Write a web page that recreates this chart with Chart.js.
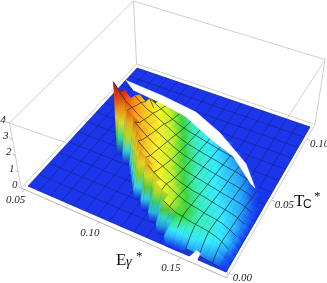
<!DOCTYPE html>
<html>
<head>
<meta charset="utf-8">
<script src="https://cdn.jsdelivr.net/npm/chart.js@4"></script>
<style>
html, body { margin: 0; background: #fff; }
canvas { display: block; filter: blur(0.35px); }
</style>
</head>
<body>
<canvas id="myChart" width="327" height="283"></canvas>
<script>
// axis ranges and tick labels
const energyRange = [0.05, 0.175];
const tempRange = [0, 0.11];
const energyTicks = [0.05, 0.10, 0.15];
const tempTicks = [0.00, 0.05, 0.10];
const heightTicks = [0, 1, 2, 3, 4];

// surface heights, one row per T node, first E node in leafStart
const leafStart = [26, 23, 21, 19, 17, 15, 14, 13, 12, 10, 7, 8, 9, 9, 10, 10, 11, 12];
const leafZ = [
    [.3, .3, .25, .2, .15, .1],
    [.9, .8, .75, .7, .65, .6, .55, .45, .2],
    [1.5, 1.3, 1.1, 1.05, .95, .9, .85, .8, .7, .55, .3],
    [1.9, 1.6, 1.45, 1.3, 1.15, 1.05, .95, .85, .8, .75, .65, .5, .3],
    [2.3, 2, 1.75, 1.6, 1.4, 1.2, 1.05, .95, .9, .8, .75, .7, .6, .45, .25],
    [2.5, 2.25, 2, 1.8, 1.6, 1.4, 1.25, 1.1, 1, .9, .82, .75, .7, .6, .55, .42, .25],
    [2.6, 2.3, 2, 1.85, 1.65, 1.45, 1.25, 1.1, 1, .9, .85, .78, .7, .62, .55, .48, .38, .2],
    [2.7, 2.35, 2.05, 1.9, 1.7, 1.5, 1.3, 1.15, 1, .92, .85, .78, .7, .63, .57, .5, .43, .33, .15],
    [2.8, 2.5, 2.2, 1.95, 1.75, 1.55, 1.35, 1.2, 1.05, .95, .87, .8, .72, .65, .57, .5, .44, .38, .28, .12],
    [2.95, 2.7, 2.45, 2.25, 2.05, 1.85, 1.65, 1.45, 1.25, 1.1, 1, .9, .82, .75, .68, .6, .52, .46, .4, .33, .22, .08],
    [4, 3.5, 3.05, 2.8, 2.5, 2.3, 2.1, 1.9, 1.7, 1.5, 1.3, 1.15, 1.02, .93, .85, .78, .7, .62, .55, .48, .42, .35, .25, .12],
    [3.3, 2.9, 2.6, 2.35, 2.15, 2, 1.8, 1.6, 1.4, 1.2, 1.05, .95, .88, .8, .72, .65, .58, .5, .44, .38, .3, .2, .08],
    [2.75, 2.45, 2.2, 2.05, 1.85, 1.65, 1.45, 1.25, 1.1, .97, .88, .8, .72, .65, .58, .5, .44, .38, .3, .2, .1],
    [2.5, 2.2, 2, 1.85, 1.65, 1.45, 1.28, 1.12, 1, .9, .82, .75, .67, .6, .52, .45, .38, .3, .2, .1],
    [2.1, 1.9, 1.7, 1.5, 1.3, 1.15, 1.02, .92, .84, .76, .68, .6, .52, .45, .37, .3, .22],
    [1.2, 1.75, 1.55, 1.35, 1.18, 1.05, .95, .86, .78, .7, .62, .54, .46, .38, .3, .15],
    [1.5, 1.35, 1.18, 1.05, .95, .86, .78, .7, .62, .54, .46, .38, .12],
    [1.05, .95, .85, .78, .7, .62, .54, .46, .3]
];

// hole in the surface, as (E, T) outlines
const gapE = [.05, .0799, .106, .1279, .1529, .1651, .1619, .1433, .1271, .1026, .0838, .0595];
const gapT = [.0966, .0945, .0911, .082, .067, .0536, .0551, .0691, .0744, .0847, .0883, .0909];
const notchE = [.15375, .15875, .1581, .1556];
const notchT = [-.001, -.001, .0039, .0044];

// colour scale against height
const colorHeights = [0, .15, .35, .62, .85, 1.05, 1.35, 1.8, 2.6, 3.2, 4];
const colorValues = [[20, 45, 235], [25, 90, 240], [40, 170, 250], [55, 235, 255], [60, 240, 190], [60, 215, 60],
    [190, 240, 40], [250, 245, 40], [255, 160, 20], [240, 50, 20], [190, 20, 30]];

const canvas = document.getElementById('myChart');
const ctx = canvas.getContext('2d');

// picture of the floor corners and of the same corners at height 4
function quadMap(q) {
    const dx1 = q[1][0] - q[2][0], dx2 = q[3][0] - q[2][0], sx = q[0][0] - q[1][0] + q[2][0] - q[3][0];
    const dy1 = q[1][1] - q[2][1], dy2 = q[3][1] - q[2][1], sy = q[0][1] - q[1][1] + q[2][1] - q[3][1];
    const den = dx1 * dy2 - dx2 * dy1;
    const g = (sx * dy2 - dx2 * sy) / den, h = (dx1 * sy - sx * dy1) / den;
    const a = q[1][0] - q[0][0] + g * q[1][0], b = q[3][0] - q[0][0] + h * q[3][0];
    const d = q[1][1] - q[0][1] + g * q[1][1], e = q[3][1] - q[0][1] + h * q[3][1];
    return (u, v) => {
        const w = g * u + h * v + 1;
        return [(a * u + b * v + q[0][0]) / w, (d * u + e * v + q[0][1]) / w];
    };
}
const floorMap = quadMap([[28, 186], [226, 272], [310, 127], [137, 68]]);
const topMap = quadMap([[17, 121], [233, 196], [320, 62], [134, 5]]);

function project(energy, temp, z) {
    const u = (energy - energyRange[0]) / (energyRange[1] - energyRange[0]);
    const v = (temp - tempRange[0]) / (tempRange[1] - tempRange[0]);
    const p0 = floorMap(u, v), p1 = topMap(u, v);
    return [p0[0] + (p1[0] - p0[0]) * z / 4, p0[1] + (p1[1] - p0[1]) * z / 4];
}

const nodesE = 33, nodesT = 25;
const energyAt = i => energyRange[0] + (energyRange[1] - energyRange[0]) * i / (nodesE - 1);
const tempAt = j => tempRange[0] + (tempRange[1] - tempRange[0]) * j / (nodesT - 1);
function zAt(i, j) {
    if (j < 0 || j >= leafZ.length) return 0;
    return leafZ[j][i - leafStart[j]] || 0;
}
const nodePoint = (i, j) => project(energyAt(i), tempAt(j), zAt(i, j));

function zColor(z) {
    let k = 0;
    while (k < colorHeights.length - 2 && z > colorHeights[k + 1]) k++;
    const f = Math.min(1, (z - colorHeights[k]) / (colorHeights[k + 1] - colorHeights[k]));
    return colorValues[k].map((c, n) => c + (colorValues[k + 1][n] - c) * f);
}
const rgb = (c, shade) => 'rgb(' + c.map(v => Math.round(v * shade)).join(',') + ')';

const datasets = [];
function addLine(points, color, width, fillColor) {
    datasets.push({
        data: points.map(p => ({ x: p[0], y: p[1] })),
        showLine: true,
        fill: fillColor ? 'shape' : false,
        backgroundColor: fillColor || 'transparent',
        borderColor: color,
        borderWidth: width,
        borderJoinStyle: 'round',
        pointRadius: 0,
        clip: false,
        order: -datasets.length
    });
}

// box
const boxE = [.0475, .1769], boxT = [-.00275, .1133], boxZ = [0, 4];
const corner = (a, b, c) => project(boxE[a], boxT[b], boxZ[c]);
const boxColor = '#cfcfcf';
[[0, 0], [1, 0], [1, 1], [0, 1]].forEach((c, n, all) => {
    const next = all[(n + 1) % 4];
    addLine([corner(c[0], c[1], 0), corner(next[0], next[1], 0)], n == 0 ? '#b5b5b5' : boxColor, 1);
    addLine([corner(c[0], c[1], 1), corner(next[0], next[1], 1)], boxColor, 1);
    addLine([corner(c[0], c[1], 0), corner(c[0], c[1], 1)], boxColor, 1);
});
heightTicks.forEach(z => addLine([project(boxE[0], boxT[0], z), project(boxE[0] - .002, boxT[0], z)], '#a0a0a0', 0.7));
energyTicks.forEach(e => addLine([project(e, boxT[0], 0), project(e, boxT[0] - .002, 0)], '#a0a0a0', 0.7));
tempTicks.forEach(t => addLine([project(boxE[1], t, 0), project(boxE[1] + .002, t, 0)], '#a0a0a0', 0.7));

// floor
const floorBlue = '#1a35ea';
const floorMesh = 'rgba(15,25,110,0.6)';
addLine([project(energyRange[0], tempRange[0], 0), project(energyRange[1], tempRange[0], 0),
    project(energyRange[1], tempRange[1], 0), project(energyRange[0], tempRange[1], 0)], floorBlue, 0.5, floorBlue);
for (let i = 0; i < nodesE; i += 2) {
    addLine([project(energyAt(i), tempRange[0], 0), project(energyAt(i), tempRange[1], 0)], floorMesh, 0.8);
}
for (let j = 0; j < nodesT; j += 2) {
    addLine([project(energyRange[0], tempAt(j), 0), project(energyRange[1], tempAt(j), 0)], floorMesh, 0.8);
}

// the row of the summit starts further left than both its neighbours
const summitRow = leafStart.indexOf(Math.min(...leafStart));

// surface cells, back to front
for (let j = nodesT - 2; j >= 0; j--) {
    for (let i = 0; i < nodesE - 1; i++) {
        const cell = [[i, j], [i + 1, j], [i + 1, j + 1], [i, j + 1]];
        const up = cell.map(c => zAt(c[0], c[1]) > 0);
        const raised = up.filter(Boolean).length;
        if (raised == 0) continue;
        const innerCorner = raised == 1 && up[2];
        if (raised == 1 && !innerCorner) continue;
        const atSummit = j + 1 == summitRow && i + 1 == leafStart[summitRow];
        if (innerCorner && atSummit) continue;
        const summitFoot = j + 1 == summitRow && i == leafStart[summitRow];
        // foot of the cliff runs along the diagonal at inner corners and beside the summit
        const corners = innerCorner || summitFoot ? cell.slice(1) : cell;
        const zs = corners.map(c => zAt(c[0], c[1]));
        const zMax = Math.max(...zs), zMin = Math.min(...zs);
        const pts = corners.map(c => nodePoint(c[0], c[1]));
        const a = pts[zs.indexOf(zMin)], b = pts[zs.indexOf(zMax)];
        const shade = zMax - zMin > 1 ? 0.9 : 1;
        const paint = ctx.createLinearGradient(a[0], a[1], b[0], b[1]);
        for (let s = 0; s <= 4; s++) {
            paint.addColorStop(s / 4, rgb(zColor(zMin + (zMax - zMin) * s / 4), shade));
        }
        addLine(pts, paint, 0.6, paint);
    }
}

// mesh on the surface, every second node
const meshColor = 'rgba(20,40,45,0.8)';
for (let j = 0; j < leafZ.length; j += 2) {
    const row = leafZ[j].map((z, n) => nodePoint(leafStart[j] + n, j));
    addLine(row, meshColor, 0.8);
}
for (let i = 0; i < nodesE; i += 2) {
    let run = [];
    for (let j = 0; j <= leafZ.length; j++) {
        if (zAt(i, j) > 0) {
            run.push(nodePoint(i, j));
        } else {
            if (run.length > 1) addLine(run, meshColor, 0.8);
            run = [];
        }
    }
}

// holes on top of everything else
addLine(gapE.map((e, n) => project(e, gapT[n], 0)), '#fff', 0.5, '#fff');
addLine(notchE.map((e, n) => project(e, notchT[n], 0)), '#fff', 0.5, '#fff');

const axisText = {
    id: 'axisText',
    afterDraw(chart) {
        const c = chart.ctx;
        const sx = chart.scales.x, sy = chart.scales.y;
        const put = (text, p, dx, dy) => c.fillText(text, sx.getPixelForValue(p[0]) + dx, sy.getPixelForValue(p[1]) + dy);
        c.save();
        c.fillStyle = '#222';
        c.textAlign = 'center';
        c.textBaseline = 'middle';
        c.font = 'italic 11px "Liberation Serif"';
        energyTicks.forEach(e => put(e.toFixed(2), project(e, boxT[0], 0), -9, 11));
        tempTicks.forEach(t => put(t.toFixed(2), project(boxE[1], t, 0), 13, 5));
        heightTicks.forEach(z => put(String(z), project(boxE[0], boxT[0], z), -6.5, -3));

        c.textAlign = 'left';
        c.textBaseline = 'alphabetic';
        c.fillStyle = '#111';
        c.font = '17px "Liberation Serif"';
        c.fillText('E', 116, 265);
        c.fillText('T', 294, 206);
        c.font = 'italic 14px "Liberation Serif"';
        c.fillText('γ', 126, 266);
        c.font = '12px "Liberation Sans"';
        c.fillText('C', 303, 208);
        c.font = '13px "Liberation Serif"';
        c.fillText('*', 136, 260);
        c.fillText('*', 314, 200);
        c.restore();
    }
};

new Chart(ctx, {
    type: 'scatter',
    data: { datasets: datasets },
    options: {
        responsive: false,
        animation: false,
        events: [],
        layout: { padding: 0 },
        plugins: { legend: { display: false }, tooltip: { enabled: false } },
        scales: {
            x: { type: 'linear', display: false, min: 0, max: 327 },
            y: { type: 'linear', display: false, min: 0, max: 283, reverse: true }
        }
    },
    plugins: [axisText]
});
</script>
</body>
</html>
